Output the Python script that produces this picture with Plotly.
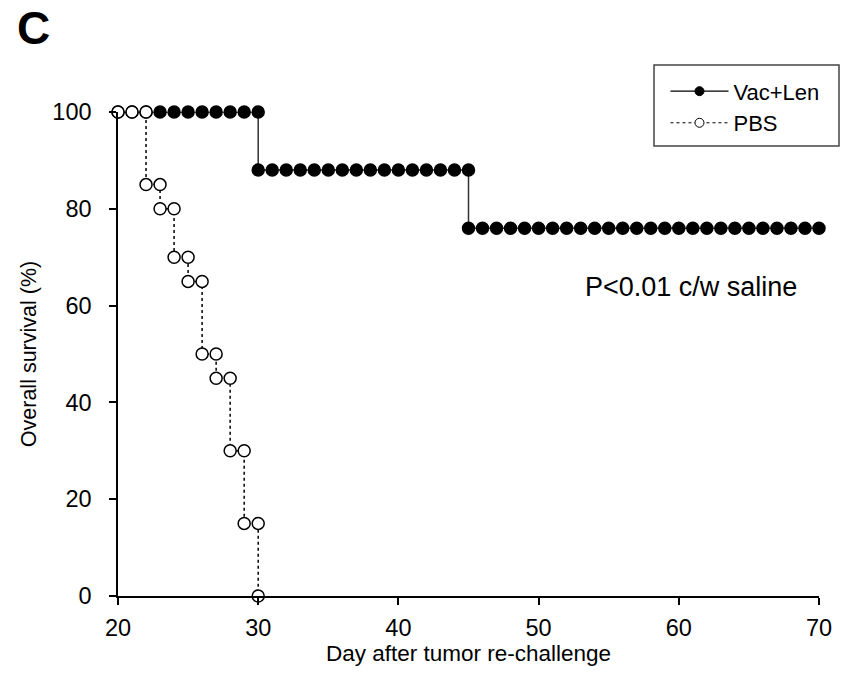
import plotly.graph_objects as go

# Vac+Len survival (%), daily markers
vac_days = [20, 21, 22, 23, 24, 25, 26, 27, 28, 29, 30,
            30, 31, 32, 33, 34, 35, 36, 37, 38, 39, 40, 41, 42, 43, 44, 45,
            45, 46, 47, 48, 49, 50, 51, 52, 53, 54, 55, 56, 57, 58, 59, 60,
            61, 62, 63, 64, 65, 66, 67, 68, 69, 70]
vac_surv = [100] * 11 + [88] * 16 + [76] * 26

# PBS survival (%)
pbs_days = [20, 21, 22, 22, 23, 23, 24, 24, 25, 25, 26, 26, 27, 27, 28, 28, 29, 29, 30, 30]
pbs_surv = [100, 100, 100, 85, 85, 80, 80, 70, 70, 65, 65, 50, 50, 45, 45, 30, 30, 15, 15, 0]

x_ticks = [20, 30, 40, 50, 60, 70]
y_ticks = [0, 20, 40, 60, 80, 100]

FONT = "Liberation Sans, Arial, sans-serif"
TICK_FONT = dict(family=FONT, size=23.5, color="black")

vac_line = dict(color="#333333", width=1.5)
pbs_line = dict(color="black", width=1.5, dash="dot")

fig = go.Figure()
fig.add_trace(go.Scatter(
    x=vac_days, y=vac_surv, mode="lines+markers", name="Vac+Len",
    line=vac_line,
    marker=dict(symbol="circle", size=12, color="black", line=dict(color="black", width=1.5)),
    cliponaxis=False, showlegend=False,
))
fig.add_trace(go.Scatter(
    x=pbs_days, y=pbs_surv, mode="lines+markers", name="PBS",
    line=pbs_line,
    marker=dict(symbol="circle", size=12, color="white", line=dict(color="black", width=1.5)),
    cliponaxis=False, showlegend=False,
))
# legend entries (no data)
fig.add_trace(go.Scatter(
    x=[None], y=[None], mode="lines+markers", name="Vac+Len", line=dict(color="black", width=1.2),
    marker=dict(size=9, color="black", line=dict(color="black", width=1)), legendgroup="a"))
fig.add_trace(go.Scatter(
    x=[None], y=[None], mode="lines+markers", name="PBS", line=dict(color="black", width=1, dash="dot"),
    marker=dict(size=9, color="white", line=dict(color="black", width=1)), legendgroup="b"))

fig.update_layout(
    width=843, height=687,
    margin=dict(l=118, r=24, t=112, b=91),
    paper_bgcolor="white", plot_bgcolor="white",
    font=dict(family=FONT, color="black", size=20),
    showlegend=True,
    legend=dict(x=0.781, y=1.086, xanchor="left", yanchor="top",
                bgcolor="rgba(0,0,0,0)", borderwidth=0,
                font=dict(size=22, family=FONT),
                tracegroupgap=0, traceorder="grouped", itemwidth=58),
    shapes=[dict(type="rect", xref="paper", yref="paper",
                 x0=(654 - 118) / 701, x1=(839 - 118) / 701,
                 y0=(596 - 146) / 484, y1=(596 - 65) / 484,
                 line=dict(color="#444444", width=1.5), fillcolor="rgba(0,0,0,0)")],
    annotations=[
        dict(text="P<0.01 c/w saline", x=60.85, y=63.8, xref="x", yref="y",
             showarrow=False, font=dict(size=27, family=FONT)),
        dict(text="<b>C</b>", x=(33 - 118) / 701, y=(596 - 28) / 484, xref="paper", yref="paper",
             xanchor="center", yanchor="middle", showarrow=False,
             font=dict(size=46, family=FONT)),
    ],
)
fig.update_xaxes(range=[20, 70], tickmode="array", tickvals=x_ticks, showgrid=False, zeroline=False,
                 showline=True, linecolor="black", linewidth=1.5,
                 ticks="outside", ticklen=7, tickwidth=1.5, tickcolor="black",
                 tickfont=TICK_FONT, ticklabelstandoff=3,
                 title=dict(text="Day after tumor re-challenge", font=dict(size=22.5, family=FONT), standoff=3))
fig.update_yaxes(range=[0, 100], tickmode="array", tickvals=y_ticks, showgrid=False, zeroline=False,
                 showline=True, linecolor="black", linewidth=1.5,
                 ticks="outside", ticklen=7, tickwidth=1.5, tickcolor="black",
                 tickfont=TICK_FONT, ticklabelstandoff=13,
                 title=dict(text="Overall survival (%)", font=dict(size=21.5, family=FONT), standoff=10))

fig.write_html("out.html")
